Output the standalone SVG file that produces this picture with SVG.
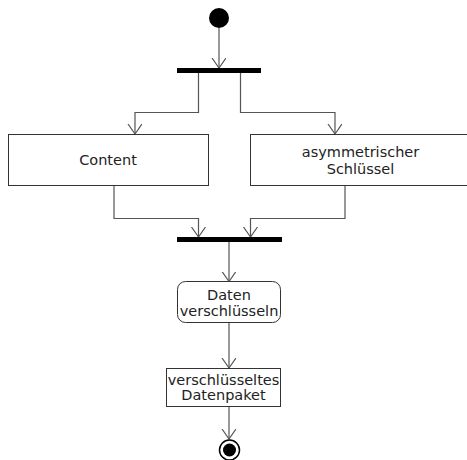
<svg xmlns="http://www.w3.org/2000/svg" width="467" height="460" viewBox="0 0 467 460">
<defs>
<style>
.box{fill:#fff;stroke:#333;stroke-width:1}
.bar{fill:#000}
.edge{fill:none;stroke:#555;stroke-width:1.2}
.t{font-family:"DejaVu Sans",sans-serif;font-size:14.5px;fill:#222;text-anchor:middle}
</style>
<marker id="arr" markerUnits="userSpaceOnUse" markerWidth="12" markerHeight="16" refX="10" refY="7" orient="auto">
<path d="M0,0 L10,7 L0,14" fill="none" stroke="#555" stroke-width="1.2"/>
</marker>
</defs>
<rect width="467" height="460" fill="#fff"/>
<g id="edges">
<path class="edge" d="M219,28 V68" marker-end="url(#arr)"/>
<path class="edge" d="M198.5,73 V112.5 H135 V134" marker-end="url(#arr)"/>
<path class="edge" d="M240.5,73 V112.5 H335 V134" marker-end="url(#arr)"/>
<path class="edge" d="M114,185 V218.5 H198.5 V237" marker-end="url(#arr)"/>
<path class="edge" d="M345,185 V218.5 H250.5 V237" marker-end="url(#arr)"/>
<path class="edge" d="M229,242 V281.5" marker-end="url(#arr)"/>
<path class="edge" d="M229,322.5 V368" marker-end="url(#arr)"/>
<path class="edge" d="M229,406.5 V439" marker-end="url(#arr)"/>
</g>
<g id="start"><circle cx="219" cy="18" r="10" fill="#000"/></g>
<g id="fork1"><rect class="bar" x="177" y="68" width="84" height="5"/></g>
<g id="content"><rect class="box" x="8.5" y="134.5" width="200" height="51"/><text class="t" x="108" y="165">Content</text></g>
<g id="schluessel"><rect class="box" x="250.5" y="134.5" width="220" height="51"/><text class="t" x="360.5" y="157">asymmetrischer</text><text class="t" x="360.5" y="174">Schlüssel</text></g>
<g id="join"><rect class="bar" x="177" y="237" width="105" height="5"/></g>
<g id="verschluesseln"><rect class="box" x="177.5" y="281.5" width="103" height="41" rx="8"/><text class="t" x="229" y="300">Daten</text><text class="t" x="229" y="316">verschlüsseln</text></g>
<g id="datenpaket"><rect class="box" x="166.5" y="368.5" width="114" height="38"/><text class="t" x="223.5" y="385">verschlüsseltes</text><text class="t" x="223.5" y="400">Datenpaket</text></g>
<g id="end"><circle cx="229.5" cy="450" r="10" fill="#fff" stroke="#000" stroke-width="1.5"/><circle cx="229.5" cy="450" r="6.5" fill="#000"/></g>
</svg>
